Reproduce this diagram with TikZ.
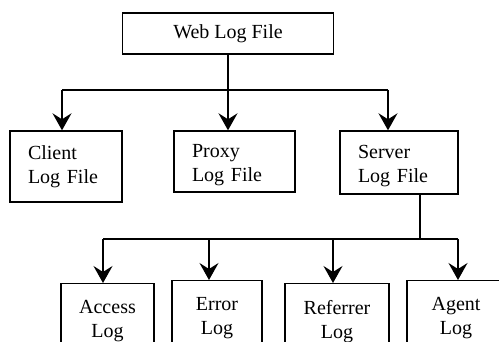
\documentclass[tikz,border=0pt]{standalone}
\usepackage{fontspec}
\setmainfont{Liberation Serif}
\usetikzlibrary{arrows.meta}
\begin{document}
\begin{tikzpicture}[x=1pt, y=-1pt,
    box/.style={draw, line width=1.4pt, font=\fontsize{20}{24}\selectfont},
    midbox/.style={box, align=left, inner xsep=18pt, text width=#1},
    lowbox/.style={box, align=center, anchor=north, inner xsep=0pt, inner ysep=17pt, minimum width=#1},
    wire/.style={line width=1.4pt},
    arr/.style={wire, -{Stealth[length=17pt, width=19pt, inset=6pt]}}]
    \useasboundingbox (0,0) rectangle (499,342);
    \clip (0,0) rectangle (499,342);

    % top level
    \node[box, minimum width=211pt, minimum height=41pt] (web) at (228, 33.5) {Web Log File};

    % log file kinds
    \node[midbox=76pt, minimum height=71pt] (client) at (66, 166.5) {Client\\Log File};
    \node[midbox=85pt, minimum height=61pt, text height=20pt, text depth=27pt] (proxy) at (234.5, 161.5) {Proxy\\Log File};
    \node[midbox=82pt, minimum height=63pt, text height=20pt, text depth=28.5pt] (server) at (399, 162.5) {Server\\Log File};

    % server logs
    \node[lowbox=93pt] (access) at (107.5, 283) {Access\\Log};
    \node[lowbox=90pt] (error) at (217, 280) {Error\\Log};
    \node[lowbox=104pt] (referrer) at (337, 283) {Referrer\\Log};
    \node[lowbox=98pt] (agent) at (456, 280) {Agent\\Log};

    % first bus
    \coordinate (bus) at (228, 90);
    \coordinate (busL) at (62, 90);
    \coordinate (busR) at (388, 90);
    \draw[wire] (web) -- (bus);
    \draw[wire] (busL) -- (busR);
    \draw[arr] (busL) -- (busL |- client.north);
    \draw[arr] (bus) -- (proxy.north -| bus);
    \draw[arr] (busR) -- (busR |- server.north);

    % second bus
    \coordinate (tap) at (420, 239);
    \coordinate (tapL) at (103, 239);
    \coordinate (tapE) at (209, 239);
    \coordinate (tapF) at (333, 239);
    \coordinate (tapR) at (458, 239);
    \draw[wire] (server.south -| tap) -- (tap);
    \draw[wire] (tapL) -- (tapR);
    \draw[arr] (tapL) -- (tapL |- access.north);
    \draw[arr] (tapE) -- (tapE |- error.north);
    \draw[arr] (tapF) -- (tapF |- referrer.north);
    \draw[arr] (tapR) -- (tapR |- agent.north);
\end{tikzpicture}
\end{document}
